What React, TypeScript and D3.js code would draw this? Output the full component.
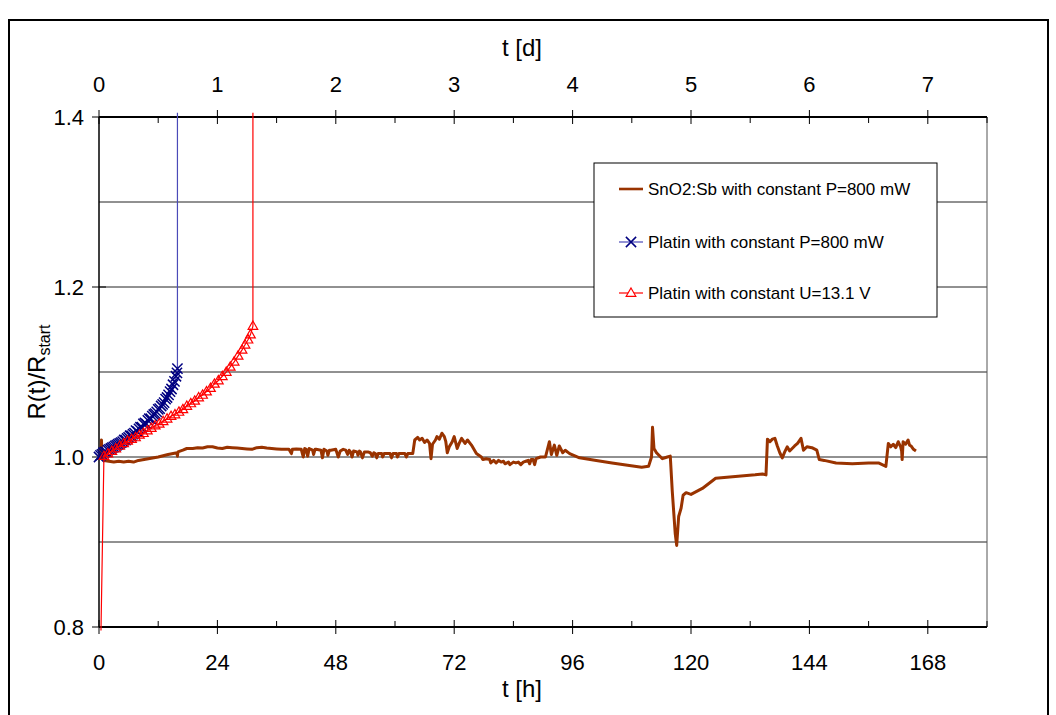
import React, { useEffect, useRef } from "react";
import * as d3 from "d3";

// t [h], R(t)/R_start
const snoData: [number, number][] = [
  [0, 1.0], [0.4, 1.001], [0.5, 1.02], [0.6, 0.998], [1, 0.996], [2, 0.995], [3, 0.994], [4, 0.995], [5, 0.994], [6, 0.995],
  [7, 0.994], [8, 0.996], [10, 0.998], [12, 1.0], [14, 1.003], [15.8, 1.005], [15.9, 1.001], [16, 1.006], [17, 1.008], [17.8, 1.01],
  [19, 1.01], [20, 1.011], [21, 1.0105], [22, 1.012], [23, 1.012], [24, 1.0105], [25, 1.01], [26, 1.0115], [27, 1.011], [28, 1.0105],
  [29, 1.01], [30, 1.0095], [31, 1.009], [32, 1.011], [33, 1.0115], [34, 1.0105], [35, 1.01], [36, 1.0095], [37, 1.009],
  [38.5, 1.009], [39, 1.004], [39.2, 1.009], [40, 1.0095], [41, 1.009], [41.4, 1.0], [41.7, 1.01], [42, 1.009], [42.3, 1.001],
  [42.6, 1.01], [43.3, 1.008], [43.5, 1.003], [43.8, 1.009], [44, 1.009], [45, 1.008], [45.3, 0.999], [45.6, 1.009], [46.2, 1.007],
  [46.4, 1.002], [46.7, 1.008], [47, 1.008], [48, 1.009], [48.5, 1.0], [48.9, 1.007], [49.5, 1.009], [50, 1.008], [50.4, 1.003],
  [50.7, 1.008], [51, 1.006], [51.3, 1.0], [51.6, 1.007], [52.3, 1.006], [52.5, 1.002], [52.8, 1.007], [53, 1.006], [53.4, 0.999],
  [53.8, 1.006], [54.5, 1.006], [55, 1.005], [55.4, 1.001], [55.7, 1.005], [56, 1.004], [56.3, 0.999], [56.6, 1.004], [57.3, 1.004],
  [57.5, 1.0], [57.8, 1.004], [58, 1.004], [59, 1.004], [59.3, 0.999], [59.6, 1.004], [60.3, 1.004], [60.5, 1.0], [60.8, 1.004],
  [61, 1.004], [62, 1.004], [62.3, 1.0], [62.6, 1.004], [63.6, 1.004], [64, 1.02], [64.6, 1.023], [65, 1.02], [65.5, 1.022],
  [66, 1.017], [66.5, 1.02], [67, 1.016], [67.3, 0.998], [67.6, 1.015], [68.2, 1.02], [68.5, 1.024], [69, 1.021], [69.5, 1.028],
  [70, 1.024], [70.3, 1.018], [70.6, 1.005], [71, 1.012], [71.6, 1.018], [72, 1.024], [72.6, 1.01], [73, 1.016], [73.5, 1.022],
  [74.2, 1.016], [74.7, 1.02], [75.5, 1.014], [76.5, 1.004], [77.5, 1.0], [77.8, 0.997], [78.5, 0.998], [79.2, 0.997],
  [79.4, 0.993], [80, 0.996], [80.5, 0.993], [81, 0.996], [81.5, 0.994], [82, 0.995], [82.3, 0.992], [83, 0.994], [83.3, 0.991],
  [84, 0.994], [84.5, 0.993], [85, 0.994], [85.5, 0.991], [86, 0.994], [86.5, 0.995], [87, 0.996], [87.3, 0.992], [87.6, 0.997],
  [88, 0.997], [88.3, 0.991], [88.6, 0.998], [89.5, 1.0], [90.5, 1.0], [91.3, 1.018], [91.7, 1.003], [92.3, 1.014], [92.8, 1.002],
  [93.3, 1.013], [94, 1.005], [94.5, 1.008], [95.4, 1.004], [97.4, 0.999], [100.8, 0.996], [104, 0.993], [107.5, 0.99], [110, 0.988],
  [111.4, 0.989], [112, 1.0], [112.2, 1.035], [112.5, 1.01], [113, 1.005], [114.2, 0.998], [115.2, 1.0], [115.8, 1.001],
  [116.2, 0.96], [116.8, 0.91], [117.1, 0.896], [117.5, 0.93], [118, 0.94], [118.4, 0.955], [119, 0.958], [120, 0.956],
  [122.3, 0.963], [125, 0.975], [129, 0.977], [133, 0.979], [134.5, 0.98], [135.2, 0.979], [135.5, 1.021], [136, 1.018],
  [136.5, 1.021], [137, 1.022], [137.5, 1.013], [138, 1.005], [138.5, 0.999], [139, 1.006], [139.5, 1.012], [140, 1.007],
  [141, 1.013], [141.6, 1.016], [142.3, 1.022], [142.8, 1.008], [143.5, 1.012], [144.5, 1.011], [145.5, 1.008], [146, 0.997],
  [147, 0.996], [149.4, 0.993], [152.7, 0.992], [156, 0.993], [158, 0.993], [159.5, 0.989], [160, 1.016], [160.5, 1.012],
  [161, 1.015], [161.5, 1.011], [162, 1.018], [162.5, 1.012], [162.7, 1.007], [162.8, 0.997], [163, 1.018], [163.5, 1.015],
  [164, 1.02], [164.3, 1.014], [164.6, 1.013], [165.1, 1.009], [165.6, 1.007],
];

const platinPData: [number, number][] = [
  [0, 1.0], [0.3, 1.002], [0.6, 1.003], [0.9, 1.005], [1.2, 1.006], [1.5, 1.006], [1.8, 1.008], [2.1, 1.009], [2.4, 1.01],
  [2.7, 1.011], [3.0, 1.012], [3.3, 1.013], [3.6, 1.014], [3.9, 1.015], [4.2, 1.016], [4.5, 1.017], [4.8, 1.018], [5.1, 1.02],
  [5.4, 1.02], [5.7, 1.022], [6.0, 1.023], [6.3, 1.025], [6.6, 1.025], [6.9, 1.027], [7.2, 1.028], [7.5, 1.031], [7.8, 1.03],
  [8.1, 1.033], [8.4, 1.035], [8.7, 1.035], [9.0, 1.039], [9.3, 1.04], [9.6, 1.039], [9.9, 1.043], [10.2, 1.045], [10.5, 1.045],
  [10.8, 1.048], [11.1, 1.05], [11.4, 1.051], [11.7, 1.053], [12.0, 1.056], [12.3, 1.057], [12.6, 1.06], [12.9, 1.062],
  [13.2, 1.064], [13.5, 1.068], [13.8, 1.07], [14.1, 1.073], [14.4, 1.077], [14.7, 1.08], [15.0, 1.085], [15.3, 1.089],
  [15.6, 1.095], [15.8, 1.099], [15.9, 1.104], [15.9, 1.405],
];

const platinUData: [number, number][] = [
  [0.4, 0.796], [1.0, 1.001], [1.8, 1.004], [2.6, 1.007], [3.4, 1.01], [4.2, 1.013], [5.0, 1.016], [5.8, 1.019],
  [6.6, 1.021], [7.4, 1.023], [8.2, 1.026], [9.0, 1.028], [9.8, 1.031], [10.6, 1.034], [11.4, 1.037], [12.2, 1.039],
  [13.0, 1.042], [13.8, 1.045], [14.6, 1.048], [15.4, 1.05], [16.2, 1.053], [17.0, 1.056], [17.8, 1.06], [18.6, 1.063],
  [19.4, 1.066], [20.2, 1.07], [21.0, 1.073], [21.8, 1.077], [22.6, 1.081], [23.4, 1.086], [24.2, 1.09], [25.0, 1.095],
  [25.8, 1.1], [26.6, 1.106], [27.4, 1.112], [28.2, 1.119], [29.0, 1.126], [29.6, 1.132], [30.2, 1.138], [30.7, 1.144],
  [31.2, 1.154], [31.2, 1.405],
];

const hourTicks = [0, 24, 48, 72, 96, 120, 144, 168];
const hourMinor = [12, 36, 60, 84, 108, 132, 156, 180];
const dayTicks = [0, 1, 2, 3, 4, 5, 6, 7];
const dayMinor = [0.5, 1.5, 2.5, 3.5, 4.5, 5.5, 6.5, 7.5];
const yTicks = [0.8, 1.0, 1.2, 1.4];
const yGrid = [0.9, 1.0, 1.1, 1.2, 1.3];

const legendItems = [
  { label: "SnO2:Sb with constant P=800 mW", color: "#993300", marker: "none" },
  { label: "Platin with constant P=800 mW", color: "#4a4ab8", marker: "x" },
  { label: "Platin with constant U=13.1 V", color: "#ff0000", marker: "tri" },
];

const FONT = "'Liberation Sans', Arial, sans-serif";

function App() {
  const ref = useRef<SVGSVGElement>(null);

  useEffect(() => {
    const svg = d3.select(ref.current);
    svg.selectAll("*").remove();

    const left = 99, right = 987, top = 117, bottom = 627;
    const x = d3.scaleLinear().domain([0, 180]).range([left, right]);
    const xd = d3.scaleLinear().domain([0, 7.5]).range([left, right]);
    const y = d3.scaleLinear().domain([0.8, 1.4]).range([bottom, top]);

    // outer frame
    svg.append("rect")
      .attr("x", 9).attr("y", 20).attr("width", 1039).attr("height", 720)
      .attr("fill", "white").attr("stroke", "black").attr("stroke-width", 2);

    // gridlines
    svg.selectAll(".grid").data(yGrid).enter().append("line")
      .attr("x1", left).attr("x2", right)
      .attr("y1", d => y(d)).attr("y2", d => y(d))
      .attr("stroke", "#222").attr("stroke-width", 1);

    // plot border
    svg.append("line").attr("x1", right).attr("x2", right).attr("y1", top).attr("y2", bottom)
      .attr("stroke", "#555").attr("stroke-width", 1);

    // axes lines
    svg.append("line").attr("x1", left).attr("x2", right).attr("y1", bottom).attr("y2", bottom)
      .attr("stroke", "black").attr("stroke-width", 2);
    svg.append("line").attr("x1", left).attr("x2", right).attr("y1", top).attr("y2", top)
      .attr("stroke", "black").attr("stroke-width", 2);
    svg.append("line").attr("x1", left).attr("x2", left).attr("y1", top).attr("y2", bottom)
      .attr("stroke", "black").attr("stroke-width", 1.5);

    // bottom ticks
    svg.selectAll(".hmaj").data(hourTicks).enter().append("line")
      .attr("x1", d => x(d)).attr("x2", d => x(d)).attr("y1", bottom - 7).attr("y2", bottom + 7)
      .attr("stroke", "black");
    svg.selectAll(".hmin").data(hourMinor).enter().append("line")
      .attr("x1", d => x(d)).attr("x2", d => x(d)).attr("y1", bottom - 6).attr("y2", bottom)
      .attr("stroke", "black");
    svg.selectAll(".hlab").data(hourTicks).enter().append("text")
      .attr("x", d => x(d)).attr("y", 670).attr("text-anchor", "middle")
      .attr("font-family", FONT).attr("font-size", 22).text(d => d);

    // top ticks
    svg.selectAll(".dmaj").data(dayTicks).enter().append("line")
      .attr("x1", d => xd(d)).attr("x2", d => xd(d)).attr("y1", top - 7).attr("y2", top + 7)
      .attr("stroke", "black");
    svg.selectAll(".dmin").data(dayMinor).enter().append("line")
      .attr("x1", d => xd(d)).attr("x2", d => xd(d)).attr("y1", top).attr("y2", top + 6)
      .attr("stroke", "black");
    svg.selectAll(".dlab").data(dayTicks).enter().append("text")
      .attr("x", d => xd(d)).attr("y", 92).attr("text-anchor", "middle")
      .attr("font-family", FONT).attr("font-size", 22).text(d => d);

    // y ticks
    svg.selectAll(".ymaj").data(yTicks).enter().append("line")
      .attr("x1", left - 7).attr("x2", left + 7).attr("y1", d => y(d)).attr("y2", d => y(d))
      .attr("stroke", "black");
    svg.selectAll(".ylab").data(yTicks).enter().append("text")
      .attr("x", 84).attr("y", d => y(d) + 8).attr("text-anchor", "end")
      .attr("font-family", FONT).attr("font-size", 22).text(d => d.toFixed(1));

    // axis titles
    svg.append("text").attr("x", 522).attr("y", 56).attr("text-anchor", "middle")
      .attr("font-family", FONT).attr("font-size", 24).text("t [d]");
    svg.append("text").attr("x", 522).attr("y", 697).attr("text-anchor", "middle")
      .attr("font-family", FONT).attr("font-size", 24).text("t [h]");
    const yt = svg.append("text").attr("transform", "translate(45,372) rotate(-90)")
      .attr("text-anchor", "middle").attr("font-family", FONT).attr("font-size", 24);
    yt.append("tspan").text("R(t)/R");
    yt.append("tspan").attr("font-size", 16).attr("dy", 5).text("start");

    const line = d3.line<[number, number]>().x(d => x(d[0])).y(d => y(d[1]));

    // SnO2:Sb
    svg.append("path").datum(snoData).attr("d", line)
      .attr("fill", "none").attr("stroke", "#993300").attr("stroke-width", 3)
      .attr("stroke-linejoin", "round");

    // Platin P
    svg.append("path").datum(platinPData).attr("d", line)
      .attr("fill", "none").attr("stroke", "#4a4ab8").attr("stroke-width", 1.2);
    const cross = d3.symbol().type(d3.symbolX).size(70);
    svg.selectAll(".px").data(platinPData.slice(0, -1)).enter().append("path")
      .attr("d", cross as any)
      .attr("transform", d => `translate(${x(d[0])},${y(d[1])})`)
      .attr("fill", "none").attr("stroke", "#000080").attr("stroke-width", 1.5);

    // Platin U
    svg.append("path").datum(platinUData).attr("d", line)
      .attr("fill", "none").attr("stroke", "#ff0000").attr("stroke-width", 1.2);
    const tri = d3.symbol().type(d3.symbolTriangle).size(40);
    svg.selectAll(".ut").data(platinUData.slice(1, -1)).enter().append("path")
      .attr("d", tri as any)
      .attr("transform", d => `translate(${x(d[0])},${y(d[1]) + 0.5})`)
      .attr("fill", "none").attr("stroke", "#ff0000").attr("stroke-width", 1.2);

    // legend
    const lg = svg.append("g");
    lg.append("rect").attr("x", 594).attr("y", 163).attr("width", 343).attr("height", 154)
      .attr("fill", "white").attr("stroke", "black").attr("stroke-width", 1);
    const rows = [189, 242, 293];
    legendItems.forEach((it, i) => {
      const ry = rows[i];
      lg.append("line").attr("x1", 619).attr("x2", 643).attr("y1", ry).attr("y2", ry)
        .attr("stroke", it.color).attr("stroke-width", it.marker === "none" ? 2.6 : 1.2);
      if (it.marker === "x") {
        lg.append("path").attr("d", cross as any).attr("transform", `translate(631,${ry})`)
          .attr("fill", "none").attr("stroke", "#000080").attr("stroke-width", 1.5);
      } else if (it.marker === "tri") {
        lg.append("path").attr("d", tri as any).attr("transform", `translate(631,${ry + 0.5})`)
          .attr("fill", "white").attr("stroke", "#ff0000").attr("stroke-width", 1.2);
      }
      lg.append("text").attr("x", 648).attr("y", ry + 6).attr("font-family", FONT)
        .attr("font-size", 17).text(it.label);
    });
  }, []);

  return (
    <svg ref={ref} width={1056} height={715}
      style={{ position: "absolute", left: 0, top: 0, background: "white" }} />
  );
}

export default App;
